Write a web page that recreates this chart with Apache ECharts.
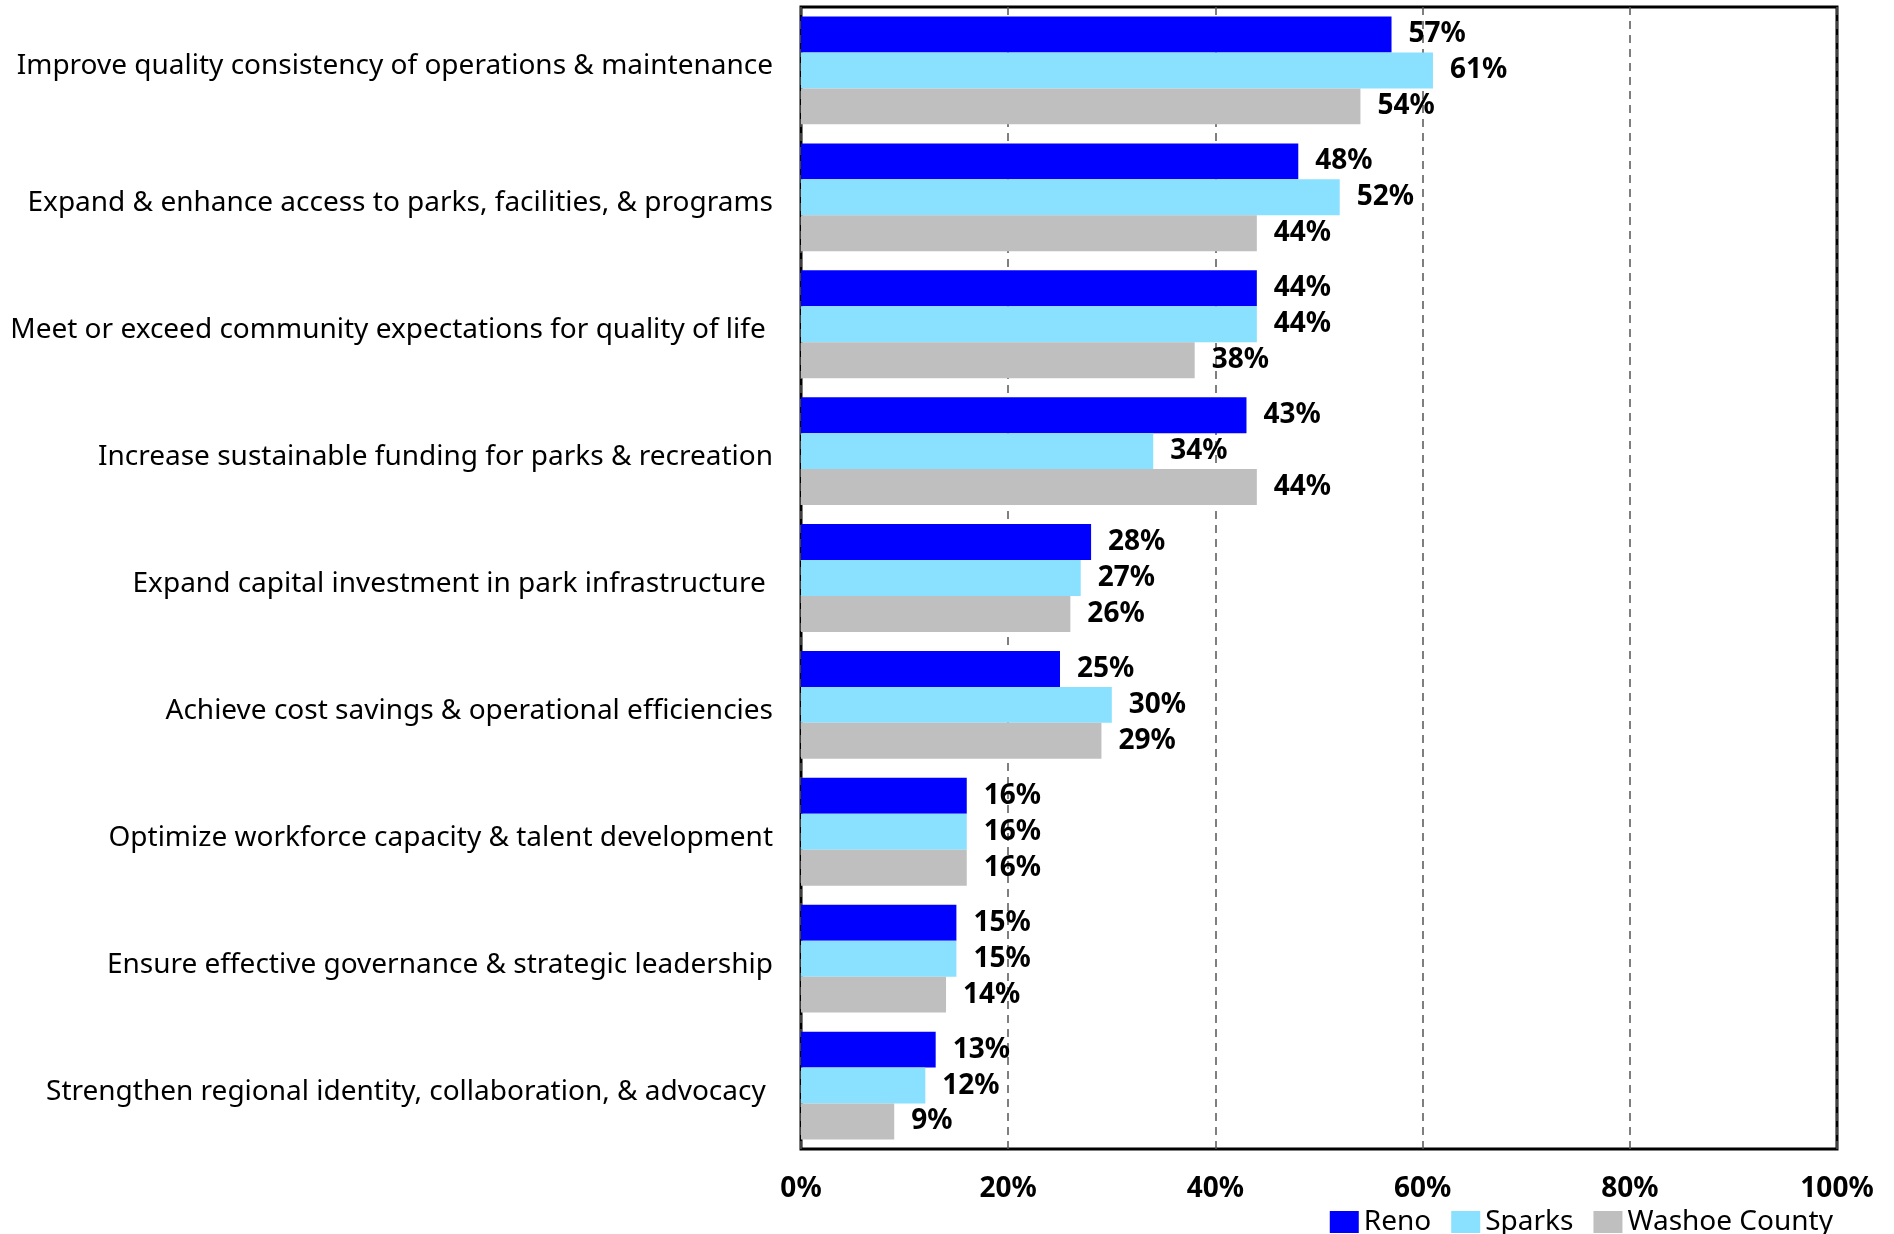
<!DOCTYPE html>
<html><head><meta charset="utf-8">
<script src="https://cdn.jsdelivr.net/npm/echarts@6/dist/echarts.min.js"></script>
<style>html,body{margin:0;padding:0;background:#fff}#c{width:1894px;height:1234px}</style>
</head><body><div id="c"></div>
<script>
const categories = [
  "Improve quality consistency of operations & maintenance",
  "Expand & enhance access to parks, facilities, & programs",
  "Meet or exceed community expectations for quality of life ",
  "Increase sustainable funding for parks & recreation",
  "Expand capital investment in park infrastructure ",
  "Achieve cost savings & operational efficiencies",
  "Optimize workforce capacity & talent development",
  "Ensure effective governance & strategic leadership",
  "Strengthen regional identity, collaboration, & advocacy "
];
const reno   = [57, 48, 44, 43, 28, 25, 16, 15, 13];
const sparks = [61, 52, 44, 34, 27, 30, 16, 15, 12];
const washoe = [54, 44, 38, 44, 26, 29, 16, 14, 9];
const seriesNames = ["Reno", "Sparks", "Washoe County"];
const xTicks = [0, 20, 40, 60, 80, 100];

const colors = ["#0000FF", "#89E0FF", "#BFBFBF"];
const FONT = "Noto Sans";
const chart = echarts.init(document.getElementById('c'));
const mk = (name, data, i) => ({
  name, type: 'bar', data,
  itemStyle: { color: colors[i] },
  barGap: '0%', barCategoryGap: '15%',
  label: { show: true, position: 'right', distance: 17, formatter: '{c}%',
    fontFamily: FONT, fontWeight: 'bold', fontSize: 28, color: '#000' }
});
const lblStyle = { fontFamily: FONT, fontSize: 28, color: '#000' };
chart.setOption({
  animation: false,
  grid: { left: 801, right: 57, top: 7, bottom: 85, show: true, borderColor: '#000', borderWidth: 3, containLabel: false },
  legend: {
    right: 56, top: 1203, itemWidth: 29, itemHeight: 22, itemGap: 20,
    icon: 'rect',
    textStyle: { fontFamily: FONT, fontSize: 28, color: '#000' },
    data: seriesNames
  },
  xAxis: {
    type: 'value', min: xTicks[0], max: xTicks[xTicks.length-1], interval: 20,
    axisLine: { show: false }, axisTick: { show: false },
    axisLabel: { formatter: '{value}%', margin: 26, fontFamily: FONT, fontWeight: 'bold', fontSize: 28, color: '#000' },
    splitLine: { show: true, lineStyle: { type: [8, 6], color: '#555', width: 1.5 } }
  },
  yAxis: {
    type: 'category', data: categories, inverse: true,
    axisLine: { show: false }, axisTick: { show: false },
    axisLabel: {
      margin: 28, ...lblStyle,
      formatter: (v, i) => (i === 0 ? '{b|' : '{a|') + v + '}',
      rich: {
        a: { ...lblStyle, padding: [12, 0, 0, 0] },
        b: { ...lblStyle, padding: [0, 0, 8, 0] }
      }
    }
  },
  series: [mk(seriesNames[0], reno, 0), mk(seriesNames[1], sparks, 1), mk(seriesNames[2], washoe, 2)]
});
</script></body></html>
